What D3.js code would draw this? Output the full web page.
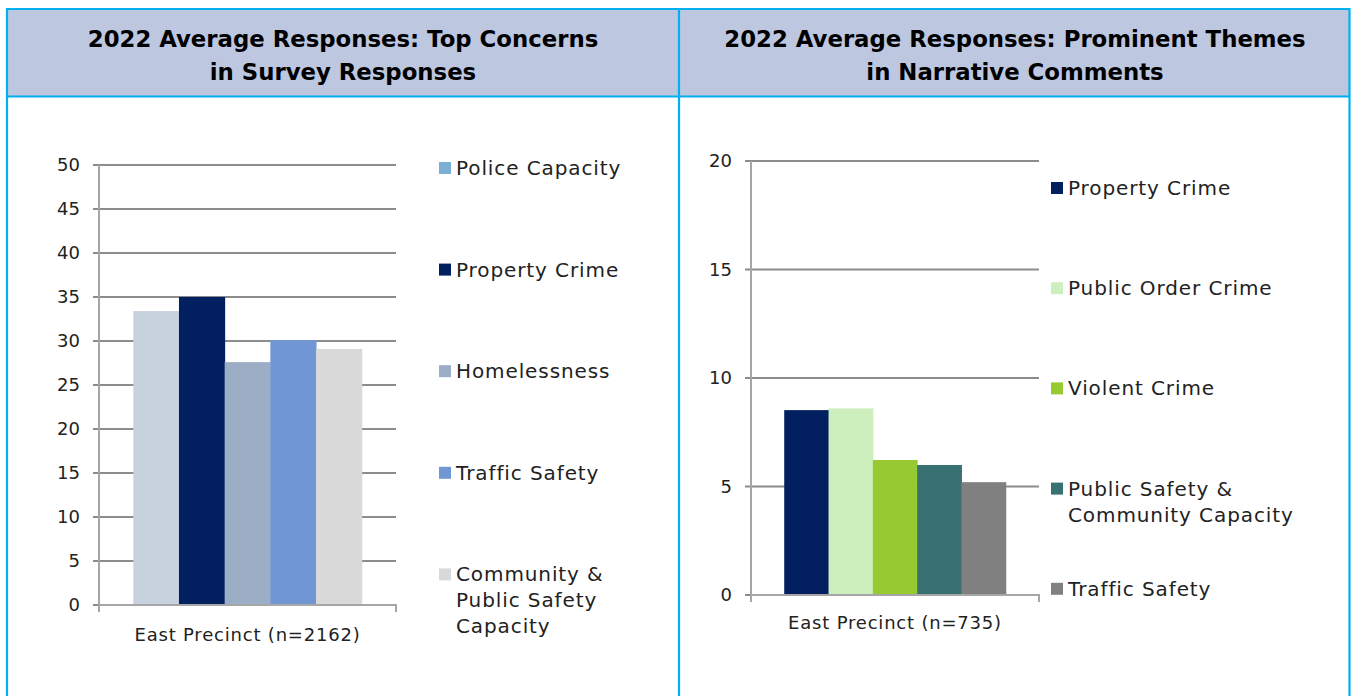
<!DOCTYPE html>
<html><head><meta charset="utf-8">
<script src="https://cdn.jsdelivr.net/npm/d3@7"></script>
<style>
html,body{margin:0;padding:0;background:#fff;}
svg{display:block;}
</style></head>
<body>
<svg id="c" width="1351" height="696"></svg>
<script>
// ---- data ----
const titleLeft = ["2022 Average Responses: Top Concerns", "in Survey Responses"];
const titleRight = ["2022 Average Responses: Prominent Themes", "in Narrative Comments"];

const leftCategory = ["East Precinct (n=2162)"];
const leftSeries = ["Police Capacity", "Property Crime", "Homelessness", "Traffic Safety", "Community & Public Safety Capacity"];
const leftLegendLines = [["Police Capacity"], ["Property Crime"], ["Homelessness"], ["Traffic Safety"], ["Community &", "Public Safety", "Capacity"]];
const leftValues = [33.4, 35.0, 27.6, 30.1, 29.1];
const leftBarColors = ["#C8D2DF", "#021F5F", "#9CADC6", "#7097D3", "#D9D9D9"];
const leftSwatchColors = ["#7BAFD4", "#021F5F", "#9CADC6", "#7097D3", "#D9D9D9"];
const leftTicks = [0, 5, 10, 15, 20, 25, 30, 35, 40, 45, 50];

const rightCategory = ["East Precinct (n=735)"];
const rightSeries = ["Property Crime", "Public Order Crime", "Violent Crime", "Public Safety & Community Capacity", "Traffic Safety"];
const rightLegendLines = [["Property Crime"], ["Public Order Crime"], ["Violent Crime"], ["Public Safety &", "Community Capacity"], ["Traffic Safety"]];
const rightValues = [8.52, 8.6, 6.22, 5.99, 5.2];
const rightColors = ["#021F5F", "#CDEFBD", "#97C931", "#377171", "#808080"];
const rightTicks = [0, 5, 10, 15, 20];

// ---- drawing ----
const svg = d3.select("#c");
const FONT = "'DejaVu Sans', 'Lato', sans-serif";
const BORDER = "#00B0F0";

// panels
svg.append("rect").attr("x", 7).attr("y", 9).attr("width", 672).attr("height", 88).attr("fill", "#BDC7E0");
svg.append("rect").attr("x", 679).attr("y", 9).attr("width", 671).attr("height", 88).attr("fill", "#BDC7E0");
const bl = [[7,9,1350,9],[7,96.5,1350,96.5],[7,8,7,696],[679,8,679,696],[1349.5,8,1349.5,696]];
svg.selectAll("line.border").data(bl).enter().append("line")
  .attr("x1", d=>d[0]).attr("y1", d=>d[1]).attr("x2", d=>d[2]).attr("y2", d=>d[3])
  .attr("stroke", BORDER).attr("stroke-width", 2.2);

function title(lines, cx) {
  const t = svg.append("text").attr("x", cx).attr("text-anchor", "middle")
    .attr("font-family", FONT).attr("font-weight", "bold").attr("font-size", 22.8)
    .attr("fill", "#000");
  lines.forEach((l, i) => t.append("tspan").attr("x", cx).attr("y", 47 + i * 33).text(l));
}
title(titleLeft, 343);
title(titleRight, 1015);

function chart(cfg) {
  const g = svg.append("g");
  const y = d3.scaleLinear().domain([0, cfg.max]).range([cfg.y0, cfg.yTop]);
  const x0 = d3.scaleBand().domain(cfg.category).range([cfg.xl, cfg.xr]).paddingInner(0).paddingOuter(0.15);
  const x1 = d3.scaleBand().domain(cfg.series).range([0, x0.bandwidth()]).padding(0);

  // gridlines
  g.append("g").selectAll("line").data(cfg.ticks).enter().append("line")
    .attr("x1", cfg.xl - 6).attr("x2", cfg.xr).attr("y1", d => y(d)).attr("y2", d => y(d))
    .attr("stroke", "#8C8C8C").attr("stroke-width", 2);

  // bars
  g.append("g").selectAll("rect").data(cfg.values).enter().append("rect")
    .attr("x", (d, i) => x0(cfg.category[0]) + x1(cfg.series[i]))
    .attr("width", x1.bandwidth() + 0.5)
    .attr("y", d => y(d)).attr("height", d => y(0) - y(d))
    .attr("fill", (d, i) => cfg.colors[i]);

  // y axis
  const ya = d3.axisLeft(y).tickValues(cfg.ticks).tickSize(6).tickPadding(13).tickFormat(d3.format("d"));
  const yg = g.append("g").attr("transform", `translate(${cfg.xl},0)`).call(ya);
  yg.select(".domain").attr("stroke", "#A6A6A6").attr("stroke-width", 2).attr("d", `M0,${cfg.yTop}V${cfg.y0 + 7}`);
  yg.selectAll(".tick line").remove();
  yg.selectAll("text").attr("font-family", FONT).attr("font-size", 18).attr("fill", "#222");

  // x axis
  const xa = d3.axisBottom(x0).tickSize(0).tickPadding(cfg.xlabPad);
  const xg = g.append("g").attr("transform", `translate(0,${cfg.y0})`).call(xa);
  xg.select(".domain").attr("stroke", "#A6A6A6").attr("stroke-width", 2).attr("d", `M${cfg.xl},0H${cfg.xr}V7`);
  xg.selectAll("text").attr("font-family", FONT).attr("font-size", 18).attr("letter-spacing", 0.8).attr("fill", "#222");

  // legend
  const lg = g.append("g");
  cfg.legend.forEach((lines, i) => {
    const cy = cfg.legY0 + i * cfg.legStep;
    lg.append("rect").attr("x", cfg.legX).attr("y", cy - 6).attr("width", 12).attr("height", 12).attr("fill", cfg.swatch[i]);
    const t = lg.append("text").attr("font-family", FONT).attr("font-size", 20).attr("letter-spacing", 0.9).attr("fill", "#222");
    lines.forEach((l, j) => t.append("tspan").attr("x", cfg.legX + 17).attr("y", cy + 7 + j * 26).text(l));
  });
}

chart({
  category: leftCategory, series: leftSeries, values: leftValues, colors: leftBarColors, swatch: leftSwatchColors,
  ticks: leftTicks, max: 50, y0: 605, yTop: 165, xl: 99, xr: 396, xlabPad: 23,
  legend: leftLegendLines, legX: 439, legY0: 168, legStep: 101.6
});
chart({
  category: rightCategory, series: rightSeries, values: rightValues, colors: rightColors, swatch: rightColors,
  ticks: rightTicks, max: 20, y0: 595, yTop: 161, xl: 751, xr: 1039, xlabPad: 21,
  legend: rightLegendLines, legX: 1051, legY0: 188, legStep: 100.2
});
</script>
</body></html>
